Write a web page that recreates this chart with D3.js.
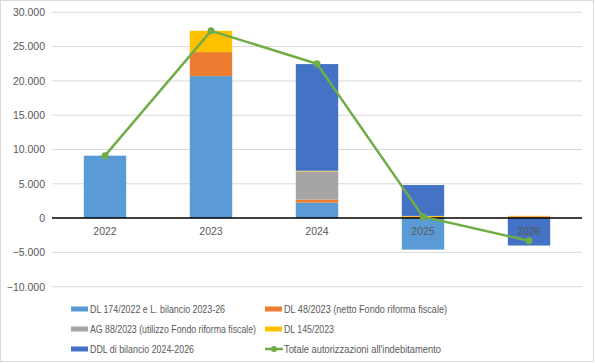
<!DOCTYPE html>
<html>
<head>
<meta charset="utf-8">
<script src="https://cdn.jsdelivr.net/npm/d3@7"></script>
<style>
  body { margin: 0; background: #fff; }
  text { font-family: "Liberation Sans", Arial, sans-serif; fill: #595959; }
</style>
</head>
<body>
<div id="chart"></div>
<script>
"use strict";

const years = ["2022", "2023", "2024", "2025", "2026"];
const seriesNames = [
    "DL 174/2022 e L. bilancio 2023-26",
    "DL 48/2023 (netto Fondo riforma fiscale)",
    "AG 88/2023 (utilizzo Fondo riforma fiscale)",
    "DL 145/2023",
    "DDL di bilancio 2024-2026"
];
const dl174 = [9100, 20700, 2250, -4600, 0];
const dl48 = [0, 3500, 450, 200, 250];
const ag88 = [0, 0, 4100, 0, 0];
const dl145 = [0, 3100, 100, 120, 80];
const ddl = [0, 0, 15550, 4500, -4000];
const totalName = "Totale autorizzazioni all'indebitamento";
const totale = [9100, 27300, 22500, 200, -3300];
const yTicks = [-10000, -5000, 0, 5000, 10000, 15000, 20000, 25000, 30000];

const colors = ["#5B9BD5", "#ED7D31", "#A5A5A5", "#FFC000", "#4472C4"];
const lineColor = "#70AD47";

const plot = {
    width: 595,
    height: 363,
    left: 52,
    right: 582,
    top: 12.3,
    bottom: 286.7
};

window.onload = function () {
    let svg = d3.select("#chart")
        .append("svg")
        .attr("width", plot.width)
        .attr("height", plot.height);

    svg.append("rect")
        .attr("x", 0.5).attr("y", 0.5)
        .attr("width", plot.width - 2).attr("height", plot.height - 2)
        .attr("fill", "#fff")
        .attr("stroke", "#D9D9D9");

    let xScale = d3.scaleBand()
        .domain(years)
        .range([plot.left, plot.right])
        .paddingInner(0.6)
        .paddingOuter(0.3);

    let yScale = d3.scaleLinear()
        .domain([-10000, 30000])
        .range([plot.bottom, plot.top]);

    // gridlines
    svg.append("g")
        .selectAll("line")
        .data(yTicks.filter(t => t != 0))
        .enter()
        .append("line")
        .attr("x1", plot.left).attr("x2", plot.right)
        .attr("y1", d => yScale(d)).attr("y2", d => yScale(d))
        .attr("stroke", "#D9D9D9")
        .attr("stroke-width", 1);

    // y axis labels
    let fmt = d3.formatLocale({ decimal: ",", thousands: ".", grouping: [3], currency: ["", ""] }).format(",d");
    let yAxis = d3.axisLeft(yScale).tickValues(yTicks).tickSize(0).tickPadding(7).tickFormat(fmt);
    let gy = svg.append("g")
        .attr("transform", "translate(" + plot.left + ",0)")
        .call(yAxis);
    gy.select(".domain").remove();
    gy.selectAll("text")
        .style("font-family", "'Liberation Sans', Arial, sans-serif")
        .style("font-size", "10.5px")
        .attr("fill", "#595959");

    // stacked bars
    let table = years.map((y, i) => ({
        year: y, s0: dl174[i], s1: dl48[i], s2: ag88[i], s3: dl145[i], s4: ddl[i]
    }));
    let stack = d3.stack()
        .keys(["s0", "s1", "s2", "s3", "s4"])
        .offset(d3.stackOffsetDiverging);
    let layers = stack(table);

    svg.append("g")
        .selectAll("g")
        .data(layers)
        .enter()
        .append("g")
        .attr("fill", (d, i) => colors[i])
        .selectAll("rect")
        .data(d => d)
        .enter()
        .append("rect")
        .attr("x", d => xScale(d.data.year))
        .attr("width", xScale.bandwidth())
        .attr("y", d => yScale(Math.max(d[0], d[1])))
        .attr("height", d => Math.abs(yScale(d[0]) - yScale(d[1])));

    // zero line
    svg.append("line")
        .attr("x1", plot.left).attr("x2", plot.right)
        .attr("y1", yScale(0)).attr("y2", yScale(0))
        .attr("stroke", "#000")
        .attr("stroke-width", 1.5);

    // x axis labels
    let xAxis = d3.axisBottom(xScale).tickSize(0).tickPadding(9);
    let gx = svg.append("g")
        .attr("transform", "translate(0," + yScale(0) + ")")
        .call(xAxis);
    gx.select(".domain").remove();
    gx.selectAll("text")
        .style("font-family", "'Liberation Sans', Arial, sans-serif")
        .style("font-size", "10.5px")
        .attr("fill", "#595959");

    // total line
    let cx = d => xScale(d.year) + xScale.bandwidth() / 2;
    let pts = years.map((y, i) => ({ year: y, v: totale[i] }));
    svg.append("path")
        .datum(pts)
        .attr("fill", "none")
        .attr("stroke", lineColor)
        .attr("stroke-width", 2.5)
        .attr("d", d3.line().x(cx).y(d => yScale(d.v)));
    svg.selectAll(".dot")
        .data(pts)
        .enter()
        .append("circle")
        .attr("cx", cx)
        .attr("cy", d => yScale(d.v))
        .attr("r", 3.5)
        .attr("fill", lineColor);

    // legend
    let legendItems = [
        { name: seriesNames[0], color: colors[0], col: 0, row: 0, w: 135 },
        { name: seriesNames[1], color: colors[1], col: 1, row: 0, w: 163 },
        { name: seriesNames[2], color: colors[2], col: 0, row: 1, w: 166 },
        { name: seriesNames[3], color: colors[3], col: 1, row: 1, w: 50 },
        { name: seriesNames[4], color: colors[4], col: 0, row: 2, w: 104 },
        { name: totalName, color: lineColor, col: 1, row: 2, w: 157, line: true }
    ];
    let colX = [71, 265];
    let rowY = [309, 329, 349];
    let lg = svg.append("g")
        .selectAll("g")
        .data(legendItems)
        .enter()
        .append("g")
        .attr("transform", d => "translate(" + colX[d.col] + "," + rowY[d.row] + ")");
    lg.filter(d => !d.line)
        .append("rect")
        .attr("x", 0).attr("y", -2.5)
        .attr("width", 17).attr("height", 5)
        .attr("fill", d => d.color);
    lg.filter(d => d.line)
        .append("line")
        .attr("x1", 0).attr("x2", 18)
        .attr("y1", 0).attr("y2", 0)
        .attr("stroke", d => d.color)
        .attr("stroke-width", 2.5);
    lg.filter(d => d.line)
        .append("circle")
        .attr("cx", 9).attr("cy", 0).attr("r", 3)
        .attr("fill", d => d.color);
    lg.append("text")
        .attr("x", 19)
        .attr("y", 0)
        .attr("dy", "0.35em")
        .style("font-size", "10.5px")
        .attr("textLength", d => d.w)
        .attr("lengthAdjust", "spacingAndGlyphs")
        .text(d => d.name);
};
</script>
</body>
</html>
